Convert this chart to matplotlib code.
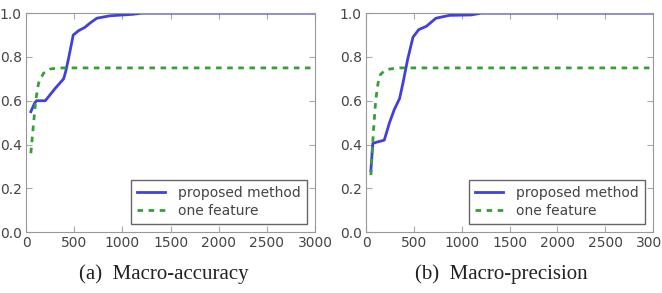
import matplotlib
matplotlib.use('Agg')
import matplotlib.pyplot as plt

# (a) macro-accuracy
acc_x = [50, 90, 110, 200, 300, 390, 410, 440, 490, 545, 610, 665, 735, 870, 1110, 1200, 3000]
acc_prop = [0.55, 0.59, 0.60, 0.60, 0.655, 0.70, 0.73, 0.79, 0.90, 0.92, 0.935, 0.955, 0.977, 0.988, 0.995, 1.0, 1.0]
acc_one_x = [50, 75, 100, 130, 180, 250, 350, 3000]
acc_one = [0.36, 0.48, 0.60, 0.68, 0.725, 0.745, 0.75, 0.75]

# (b) macro-precision
prec_x = [50, 70, 105, 190, 245, 295, 350, 385, 435, 490, 550, 630, 730, 870, 1100, 1200, 3000]
prec_prop = [0.28, 0.405, 0.41, 0.42, 0.50, 0.56, 0.61, 0.68, 0.79, 0.89, 0.925, 0.94, 0.977, 0.99, 0.992, 1.0, 1.0]
prec_one_x = [50, 75, 100, 125, 150, 200, 250, 350, 3000]
prec_one = [0.26, 0.45, 0.60, 0.68, 0.72, 0.74, 0.745, 0.75, 0.75]

captions = ['(a)  Macro-accuracy', '(b)  Macro-precision']

fig = plt.figure(figsize=(6.62, 2.93), dpi=100)
ax1 = fig.add_axes([0.0393, 0.208, 0.4366, 0.747])
ax2 = fig.add_axes([0.553, 0.208, 0.4335, 0.747])

panels = [(ax1, acc_x, acc_prop, acc_one_x, acc_one),
          (ax2, prec_x, prec_prop, prec_one_x, prec_one)]

for ax, px, py, ox, oy in panels:
    ax.plot(px, py, color='#4040e0', linewidth=2, label='proposed method')
    ax.plot(ox, oy, color='#35a035', linewidth=2, linestyle=(0, (2.0, 2.0)), label='one feature')
    ax.set_xlim(0, 3000)
    ax.set_ylim(0, 1.0)
    ax.set_xticks([0, 500, 1000, 1500, 2000, 2500, 3000])
    ax.set_yticks([0.0, 0.2, 0.4, 0.6, 0.8, 1.0])
    ax.tick_params(direction='in', top=True, right=True, labelsize=10,
                   labelcolor='#444444', color='#aaaaaa', length=4, pad=3)
    for s in ax.spines.values():
        s.set_color('#999999')
    leg = ax.legend(loc='lower right', fontsize=10, fancybox=False,
                    handlelength=2.0, handletextpad=0.95, borderpad=0.45,
                    labelspacing=0.3, borderaxespad=0.55, framealpha=1)
    leg.get_frame().set_edgecolor('#666666')
    for t in leg.get_texts():
        t.set_color('#444444')

fig.text(0.248, 0.065, captions[0], ha='center', va='center',
         family='Liberation Serif', fontsize=15, color='#222222')
fig.text(0.758, 0.065, captions[1], ha='center', va='center',
         family='Liberation Serif', fontsize=15, color='#222222')

fig.savefig('out.png', dpi=100)
